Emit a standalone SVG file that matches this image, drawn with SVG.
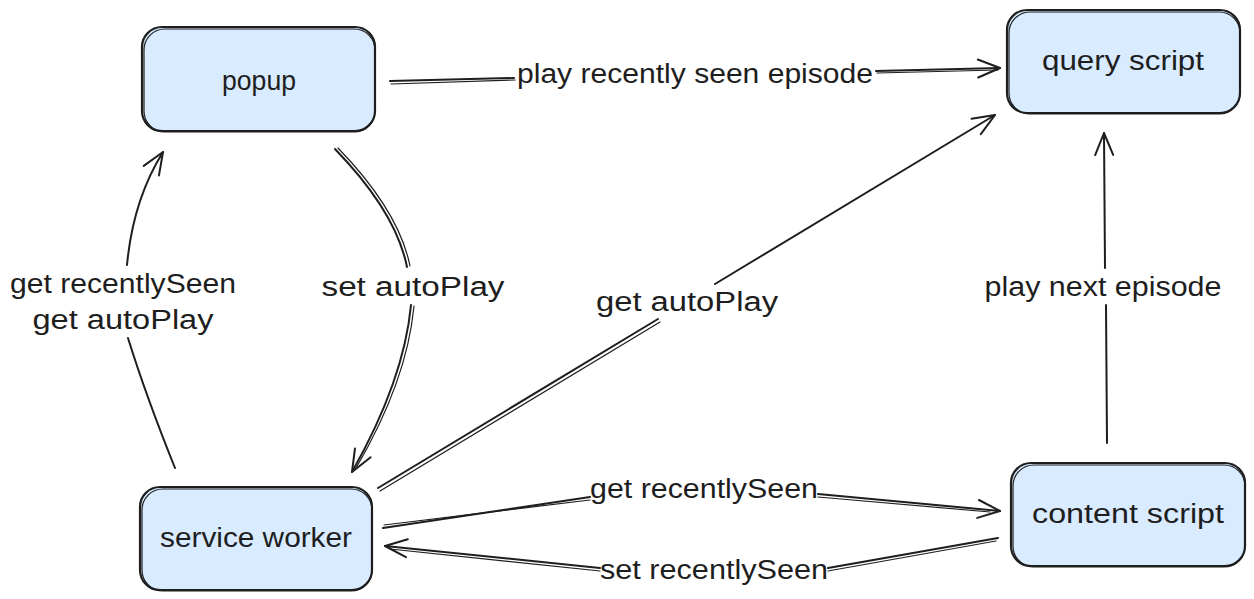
<svg xmlns="http://www.w3.org/2000/svg" xmlns:xlink="http://www.w3.org/1999/xlink" width="1254" height="599" viewBox="0 0 1254 599">
<style>
.box{fill:#d8ebff;stroke:#1e1e1e;stroke-width:2.2}
.box2{fill:none;stroke:#1e1e1e;stroke-width:1.2}
.lbl{font-family:"Liberation Sans",Arial,sans-serif;font-size:27px;fill:#1e1e1e;text-anchor:middle}
.ln{fill:none;stroke:#1e1e1e;stroke-width:2;stroke-linecap:round}
.ln2{fill:none;stroke:#1e1e1e;stroke-width:1.2;stroke-linecap:round}
</style>
<defs>
<marker id="ah" viewBox="-26 -13 28 26" refX="0" refY="0" markerWidth="28" markerHeight="26" markerUnits="userSpaceOnUse" orient="auto">
<path d="M-22,-9 L0,0 L-22,9" fill="none" stroke="#1e1e1e" stroke-width="2" stroke-linecap="round" stroke-linejoin="round"/>
</marker>
</defs>
<rect width="1254" height="599" fill="#ffffff"/>

<g id="connectors">
  <!-- popup -> query script -->
  <path class="ln" d="M390,81 L514,78"/>
  <path class="ln2" d="M391,84 L515,80"/>
  <path class="ln" d="M876,71 L1000,68" marker-end="url(#ah)"/>
  <path class="ln2" d="M877,73 L998,70"/>
  <text class="lbl" x="695" y="83" textLength="356" lengthAdjust="spacingAndGlyphs">play recently seen episode</text>

  <!-- service worker -> popup -->
  <path class="ln" d="M175,468 Q146,396 128,338"/>
  <path class="ln" d="M127,265 Q133,200 163,152" marker-end="url(#ah)"/>
  <text class="lbl" x="123" y="293" textLength="226" lengthAdjust="spacingAndGlyphs">get recentlySeen</text>
  <text class="lbl" x="123" y="329" textLength="181" lengthAdjust="spacingAndGlyphs">get autoPlay</text>

  <!-- popup -> service worker -->
  <path class="ln" d="M335,149 Q396,212 407,267"/>
  <path class="ln2" d="M338,148 Q399,211 410,266"/>
  <path class="ln" d="M411,305 Q404,380 352,472" marker-end="url(#ah)"/>
  <path class="ln2" d="M414,306 Q407,381 356,468"/>
  <text class="lbl" x="413" y="296" textLength="183" lengthAdjust="spacingAndGlyphs">set autoPlay</text>

  <!-- service worker -> query script -->
  <path class="ln" d="M378,488 L658,319"/>
  <path class="ln2" d="M380,491 L660,322"/>
  <path class="ln" d="M715,284 L995,115" marker-end="url(#ah)"/>
  <text class="lbl" x="687" y="311" textLength="182" lengthAdjust="spacingAndGlyphs">get autoPlay</text>

  <!-- service worker -> content script -->
  <path class="ln" d="M383,528 L590,497"/>
  <path class="ln2" d="M384,525 L590,500"/>
  <path class="ln" d="M818,494 L1000,511" marker-end="url(#ah)"/>
  <path class="ln2" d="M818,497 L990,512"/>
  <text class="lbl" x="704" y="498" textLength="228" lengthAdjust="spacingAndGlyphs">get recentlySeen</text>

  <!-- content script -> service worker -->
  <path class="ln" d="M998,538 L828,568"/>
  <path class="ln2" d="M996,541 L828,571"/>
  <path class="ln" d="M600,568 L385,546" marker-end="url(#ah)"/>
  <path class="ln2" d="M600,571 L390,549"/>
  <text class="lbl" x="714" y="579" textLength="228" lengthAdjust="spacingAndGlyphs">set recentlySeen</text>

  <!-- content script -> query script -->
  <path class="ln" d="M1107,443 L1106,305"/>
  <path class="ln" d="M1105,268 L1104,133" marker-end="url(#ah)"/>
  <text class="lbl" x="1103" y="296" textLength="237" lengthAdjust="spacingAndGlyphs">play next episode</text>
</g>

<g id="popup">
  <rect class="box" x="142" y="27" width="233" height="104" rx="20"/>
  <rect class="box2" x="144" y="29" width="231" height="103" rx="21"/>
  <text class="lbl" x="259" y="90" textLength="74" lengthAdjust="spacingAndGlyphs">popup</text>
</g>

<g id="query-script">
  <rect class="box" x="1007" y="10" width="233" height="103" rx="20"/>
  <rect class="box2" x="1009" y="12" width="231" height="102" rx="21"/>
  <text class="lbl" x="1123" y="70" textLength="162" lengthAdjust="spacingAndGlyphs">query script</text>
</g>

<g id="service-worker">
  <rect class="box" x="140" y="487" width="232" height="103" rx="20"/>
  <rect class="box2" x="142" y="489" width="230" height="102" rx="21"/>
  <text class="lbl" x="256" y="547" textLength="192" lengthAdjust="spacingAndGlyphs">service worker</text>
</g>

<g id="content-script">
  <rect class="box" x="1011" y="463" width="234" height="103" rx="20"/>
  <rect class="box2" x="1013" y="465" width="232" height="102" rx="21"/>
  <text class="lbl" x="1128" y="523" textLength="192" lengthAdjust="spacingAndGlyphs">content script</text>
</g>
</svg>
